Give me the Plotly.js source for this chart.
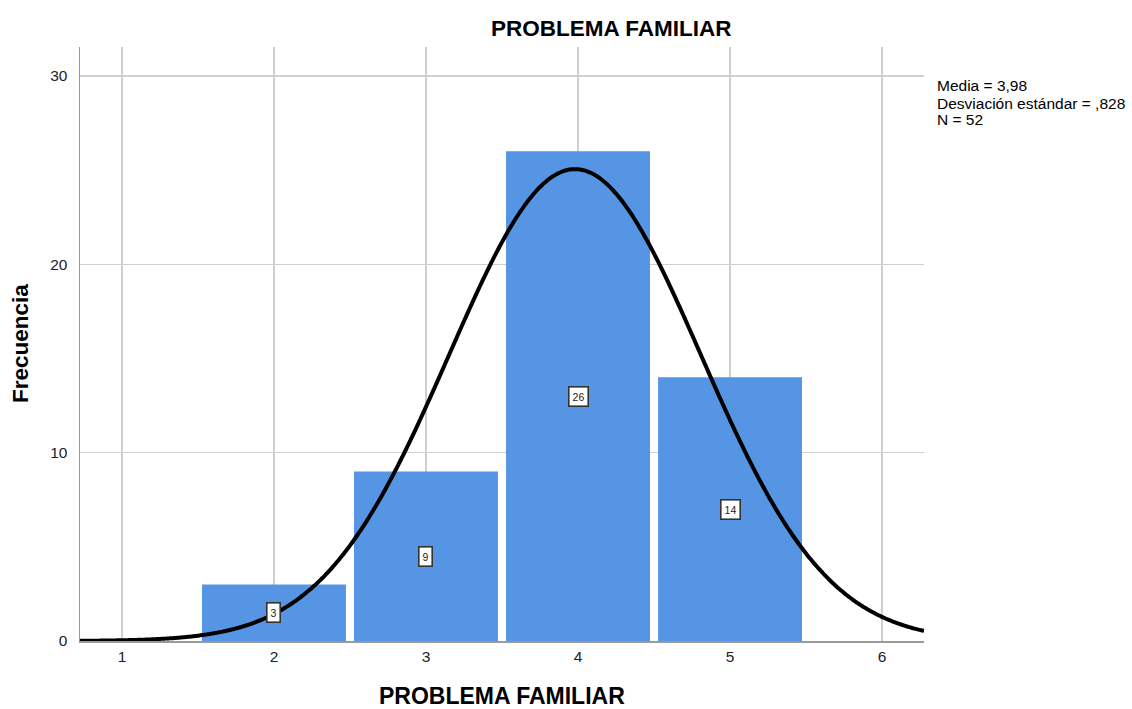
<!DOCTYPE html>
<html>
<head>
<meta charset="utf-8">
<script src="https://cdn.plot.ly/plotly-3.0.1.min.js"></script>
<style>
  html, body { margin: 0; padding: 0; background: #fff; }
  #chart { width: 1132px; height: 709px; }
</style>
</head>
<body>
<div id="chart"></div>
<script>
// categories and counts
const categorias = [2, 3, 4, 5]
const frecuencias = [3, 9, 26, 14]

// stats printed at the right of the chart
const media = 3.98
const desviacion = 0.828
const n = 52
const statsText = ['Media = 3,98', 'Desviación estándar = ,828', 'N = 52']

const xTicks = [1, 2, 3, 4, 5, 6]
const yTicks = [0, 10, 20, 30]

// normal curve scaled to the histogram (bin width 1)
function normalCurve(x0, x1, nPts) {
    let xs = [], ys = []
    for (let i = 0; i <= nPts; i++) {
        let x = x0 + (x1 - x0) * i / nPts
        let z = (x - media) / desviacion
        xs.push(x)
        ys.push(n / (desviacion * Math.sqrt(2 * Math.PI)) * Math.exp(-0.5 * z * z))
    }
    return [xs, ys]
}
const xRange = [0.724, 6.276]
const [curveX, curveY] = normalCurve(xRange[0], xRange[1], 400)

const bars = {
    x: categorias,
    y: frecuencias,
    type: 'bar',
    width: 0.947,
    marker: { color: '#5595e3', line: { width: 0 } },
    hoverinfo: 'skip'
}

const curve = {
    x: curveX,
    y: curveY,
    mode: 'lines',
    type: 'scatter',
    line: { color: '#000', width: 4, shape: 'spline' },
    hoverinfo: 'skip'
}

// value boxes in the middle of each bar
const annotations = categorias.map((c, i) => ({
    x: c, y: frecuencias[i] / 2,
    xref: 'x', yref: 'y',
    text: String(frecuencias[i]),
    showarrow: false,
    font: { family: 'Liberation Sans, Arial', size: 10.5, color: '#222' },
    bgcolor: '#fff',
    bordercolor: '#333',
    borderwidth: 1.6,
    borderpad: 3
}))

// one annotation per stats line, 17px apart like the original
// (plot area is 594px tall with its top at 47px)
statsText.forEach((t, i) => annotations.push({
    x: 1.013, y: 1 - (86 + i * 17 - 47) / 594,
    xref: 'paper', yref: 'paper',
    xanchor: 'left', yanchor: 'middle',
    text: t,
    showarrow: false,
    font: { family: 'Liberation Sans, Arial', size: 15.5, color: '#000' }
}))

// axis titles placed by hand
annotations.push({
    x: 0.5, y: 1 - (696 - 47) / 594,
    xref: 'paper', yref: 'paper',
    xanchor: 'center', yanchor: 'middle',
    text: '<b>PROBLEMA FAMILIAR</b>',
    showarrow: false,
    font: { family: 'Liberation Sans, Arial', size: 23, color: '#000' }
})
annotations.push({
    x: (20 - 80) / 844, y: 1 - (344 - 47) / 594,
    xref: 'paper', yref: 'paper',
    xanchor: 'center', yanchor: 'middle',
    textangle: -90,
    text: '<b>Frecuencia</b>',
    showarrow: false,
    font: { family: 'Liberation Sans, Arial', size: 22.5, color: '#000' }
})

const layout = {
    width: 1132,
    height: 709,
    margin: { l: 80, r: 208, t: 47, b: 68 },
    paper_bgcolor: '#fff',
    plot_bgcolor: '#fff',
    showlegend: false,
    font: { family: 'Liberation Sans, Arial', color: '#000' },
    title: {
        text: '<b>PROBLEMA FAMILIAR</b>',
        font: { size: 22.5 },
        x: 0.54, xanchor: 'center',
        y: 0.96, yanchor: 'middle'
    },
    xaxis: {
        range: xRange,
        tickvals: xTicks,
        ticktext: xTicks.map(String),
        showgrid: true,
        gridcolor: '#cfcfcf',
        gridwidth: 1.3,
        zeroline: false,
        showline: true,
        linecolor: '#9a9a9a',
        linewidth: 1.5,
        ticks: '',
        ticklabelstandoff: 1,
        tickfont: { size: 15.5, color: '#222' }
    },
    yaxis: {
        range: [0, 31.54],
        tickvals: yTicks,
        ticktext: yTicks.map(String),
        showgrid: true,
        gridcolor: '#cfcfcf',
        gridwidth: 1.3,
        zeroline: false,
        showline: true,
        linecolor: '#9a9a9a',
        linewidth: 1.5,
        ticks: '',
        ticklabelstandoff: 8,
        tickfont: { size: 15.5, color: '#222' }
    },
    annotations: annotations
}

Plotly.newPlot('chart', [bars, curve], layout, { displayModeBar: false, staticPlot: true })
</script>
</body>
</html>
